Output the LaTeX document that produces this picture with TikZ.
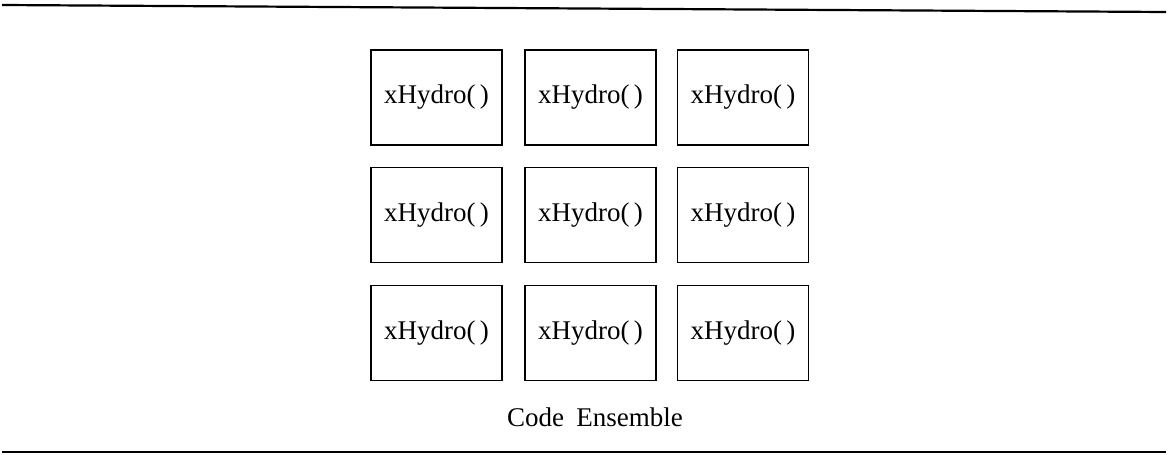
\documentclass[tikz,border=0pt]{standalone}
\usepackage{fontspec}
\setmainfont{Liberation Serif}
\begin{document}
\begin{tikzpicture}[x=1pt,y=-1pt,
  hbox/.style={draw, line width=1.6pt, minimum width=131pt, minimum height=95pt, inner sep=0pt,
    font=\fontsize{27}{31}\selectfont},
  rule/.style={line width=2.2pt}]
\useasboundingbox (0,0) rectangle (1168,455);
\coordinate (tl) at (2,5);
\coordinate (tr) at (1166,12);
\coordinate (bl) at (2,452);
\coordinate (br) at (1166,452);
\draw[rule] (tl) -- (tr);
\draw[rule] (bl) -- (br);
\foreach \r/\y in {1/97.5,2/215,3/333}{
  \foreach \c/\x in {1/436.5,2/590.5,3/743}{
    \node[hbox] (b\r\c) at (\x,\y) {xHydro(\,)};
  }
}
\node[font=\fontsize{27}{31}\selectfont] (cap) at (595,417) {Code\hspace{0.45em}Ensemble};
\end{tikzpicture}
\end{document}
